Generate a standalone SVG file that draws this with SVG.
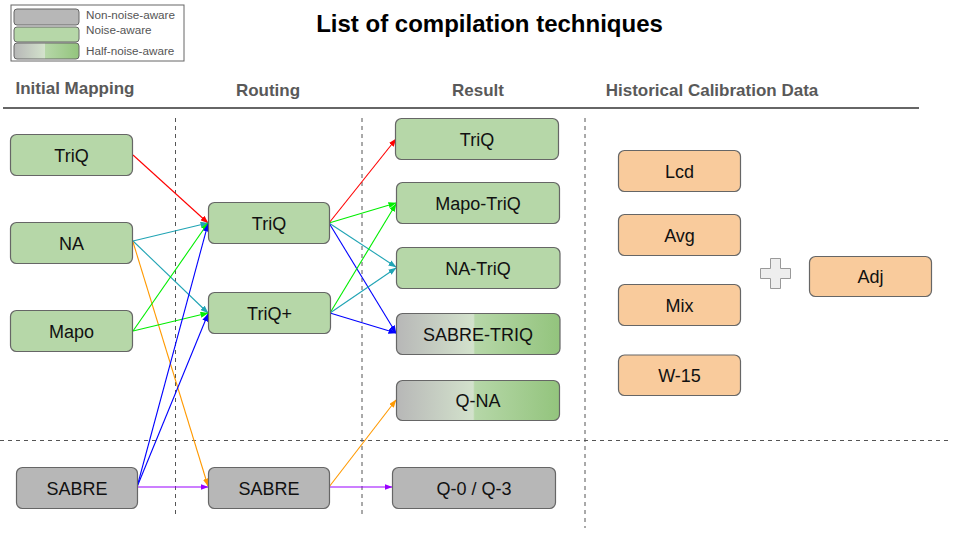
<svg xmlns="http://www.w3.org/2000/svg" width="960" height="540" viewBox="0 0 960 540">
<defs>
<style>
text{font-family:"Liberation Sans",Arial,sans-serif}
.n rect{stroke:#666;stroke-width:1.2}
.g rect{fill:#b6d7a8}
.gr rect{fill:#b7b7b7}
.h rect{fill:url(#half)}
.o rect{fill:#f9cb9c}
.n text{font-size:18px;fill:#111;text-anchor:middle}
.hd{font-size:17px;font-weight:bold;fill:#595959;text-anchor:middle}
.lg{font-size:11.7px;fill:#555}
.dash{stroke:#555;stroke-width:1;stroke-dasharray:4,4;fill:none}
#connectors line{stroke-width:1.1}
</style>
<linearGradient id="half" x1="0" y1="0" x2="1" y2="0">
<stop offset="0" stop-color="#b7b7b7"/>
<stop offset="0.47" stop-color="#d3e2cc"/>
<stop offset="0.48" stop-color="#b6d7a8"/>
<stop offset="1" stop-color="#93c47d"/>
</linearGradient>
<marker id="mr" markerWidth="8" markerHeight="6" refX="7.5" refY="3" orient="auto" markerUnits="userSpaceOnUse"><path d="M0,0 L8,3 L0,6 z" fill="#ff0000"/></marker>
<marker id="mt" markerWidth="8" markerHeight="6" refX="7.5" refY="3" orient="auto" markerUnits="userSpaceOnUse"><path d="M0,0 L8,3 L0,6 z" fill="#20a4b4"/></marker>
<marker id="ml" markerWidth="8" markerHeight="6" refX="7.5" refY="3" orient="auto" markerUnits="userSpaceOnUse"><path d="M0,0 L8,3 L0,6 z" fill="#00ee00"/></marker>
<marker id="mb" markerWidth="8" markerHeight="6" refX="7.5" refY="3" orient="auto" markerUnits="userSpaceOnUse"><path d="M0,0 L8,3 L0,6 z" fill="#0000ff"/></marker>
<marker id="mo" markerWidth="8" markerHeight="6" refX="7.5" refY="3" orient="auto" markerUnits="userSpaceOnUse"><path d="M0,0 L8,3 L0,6 z" fill="#ff9900"/></marker>
<marker id="mp" markerWidth="8" markerHeight="6" refX="7.5" refY="3" orient="auto" markerUnits="userSpaceOnUse"><path d="M0,0 L8,3 L0,6 z" fill="#9900ff"/></marker>
</defs>
<rect width="960" height="540" fill="#ffffff"/>

<g id="legend">
<rect x="11" y="5" width="173" height="56" fill="#fff" stroke="#666" stroke-width="1"/>
<rect x="14" y="9" width="65" height="16" rx="3" fill="#b7b7b7" stroke="#666"/>
<rect x="14" y="27" width="65" height="15" rx="3" fill="#b6d7a8" stroke="#666"/>
<rect x="14" y="43" width="65" height="16" rx="3" fill="url(#half)" stroke="#666"/>
<text class="lg" x="86" y="19">Non-noise-aware</text>
<text class="lg" x="86" y="34">Noise-aware</text>
<text class="lg" x="86" y="55">Half-noise-aware</text>
</g>

<text x="489.5" y="32" font-size="24" font-weight="bold" text-anchor="middle" fill="#000">List of compilation techniques</text>

<text class="hd" x="75" y="94" font-size="16">Initial Mapping</text>
<text class="hd" x="268" y="96">Routing</text>
<text class="hd" x="478" y="96">Result</text>
<text class="hd" x="712" y="96">Historical Calibration Data</text>
<line x1="3" y1="108" x2="919" y2="108" stroke="#666" stroke-width="2"/>

<line class="dash" x1="175.5" y1="118" x2="175.5" y2="515"/>
<line class="dash" x1="362" y1="118" x2="362" y2="515"/>
<line class="dash" x1="585" y1="118" x2="585" y2="528"/>
<line class="dash" x1="0" y1="440.5" x2="950" y2="440.5"/>

<g id="connectors">
<line x1="133" y1="155" x2="208" y2="223" stroke="#ff0000" marker-end="url(#mr)"/>
<line x1="133" y1="241" x2="208" y2="223" stroke="#20a4b4" marker-end="url(#mt)"/>
<line x1="133" y1="241" x2="208" y2="313" stroke="#20a4b4" marker-end="url(#mt)"/>
<line x1="133" y1="242" x2="208" y2="486" stroke="#ff9900" marker-end="url(#mo)"/>
<line x1="133" y1="331" x2="208" y2="223" stroke="#00ee00" marker-end="url(#ml)"/>
<line x1="133" y1="331" x2="208" y2="313" stroke="#00ee00" marker-end="url(#ml)"/>
<line x1="137" y1="487" x2="208" y2="224" stroke="#0000ff" marker-end="url(#mb)"/>
<line x1="137" y1="487" x2="208" y2="314" stroke="#0000ff" marker-end="url(#mb)"/>
<line x1="137" y1="487" x2="208" y2="487" stroke="#9900ff" stroke-width="1.5" marker-end="url(#mp)"/>
<line x1="329" y1="223" x2="396" y2="139" stroke="#ff0000" marker-end="url(#mr)"/>
<line x1="329" y1="223" x2="396" y2="203" stroke="#00ee00" marker-end="url(#ml)"/>
<line x1="329" y1="223" x2="396" y2="267" stroke="#20a4b4" marker-end="url(#mt)"/>
<line x1="329" y1="223" x2="396" y2="333" stroke="#0000ff" marker-end="url(#mb)"/>
<line x1="330" y1="313" x2="396" y2="204" stroke="#00ee00" marker-end="url(#ml)"/>
<line x1="330" y1="313" x2="396" y2="268" stroke="#20a4b4" marker-end="url(#mt)"/>
<line x1="330" y1="313" x2="396" y2="333" stroke="#0000ff" marker-end="url(#mb)"/>
<line x1="329" y1="487" x2="396" y2="400" stroke="#ff9900" marker-end="url(#mo)"/>
<line x1="329" y1="487" x2="392" y2="487" stroke="#9900ff" stroke-width="1.5" marker-end="url(#mp)"/>
</g>

<g id="im-triq" class="n g"><rect x="10.5" y="134.5" width="122" height="41" rx="6"/><text x="71.5" y="161.5">TriQ</text></g>
<g id="im-na" class="n g"><rect x="10.5" y="222.5" width="122" height="41" rx="6"/><text x="71.5" y="249.5">NA</text></g>
<g id="im-mapo" class="n g"><rect x="10.5" y="310.5" width="122" height="41" rx="6"/><text x="71.5" y="337.5">Mapo</text></g>
<g id="im-sabre" class="n gr"><rect x="16.5" y="467.5" width="121" height="41" rx="6"/><text x="77" y="494.5">SABRE</text></g>

<g id="rt-triq" class="n g"><rect x="208.5" y="202.5" width="121" height="41" rx="6"/><text x="269" y="229.5">TriQ</text></g>
<g id="rt-triqp" class="n g"><rect x="208.5" y="292.5" width="122" height="41" rx="6"/><text x="269.5" y="319.5">TriQ+</text></g>
<g id="rt-sabre" class="n gr"><rect x="208.5" y="467.5" width="121" height="41" rx="6"/><text x="269" y="494.5">SABRE</text></g>

<g id="rs-triq" class="n g"><rect x="395.5" y="118.5" width="163" height="41" rx="6"/><text x="477" y="145.5">TriQ</text></g>
<g id="rs-mapotriq" class="n g"><rect x="396.5" y="182.5" width="163" height="41" rx="6"/><text x="478" y="209.5">Mapo-TriQ</text></g>
<g id="rs-natriq" class="n g"><rect x="396.5" y="247.5" width="163.5" height="41" rx="6"/><text x="478" y="274.5">NA-TriQ</text></g>
<g id="rs-sabretriq" class="n h"><rect x="396.5" y="313.5" width="163.5" height="41" rx="6"/><text x="478" y="340.5">SABRE-TRIQ</text></g>
<g id="rs-qna" class="n h"><rect x="396.5" y="380.5" width="163" height="40" rx="6"/><text x="478" y="407">Q-NA</text></g>
<g id="rs-q03" class="n gr"><rect x="392.5" y="467.5" width="163" height="41" rx="6"/><text x="474" y="494.5">Q-0 / Q-3</text></g>

<g id="cal-lcd" class="n o"><rect x="618.5" y="150.5" width="122" height="41" rx="6"/><text x="679.5" y="177.5">Lcd</text></g>
<g id="cal-avg" class="n o"><rect x="618.5" y="214.5" width="122" height="41" rx="6"/><text x="679.5" y="241.5">Avg</text></g>
<g id="cal-mix" class="n o"><rect x="618.5" y="284.5" width="122" height="41" rx="6"/><text x="679.5" y="311.5">Mix</text></g>
<g id="cal-w15" class="n o"><rect x="618.5" y="355" width="122" height="40.5" rx="6"/><text x="679.5" y="382">W-15</text></g>
<g id="plus"><path d="M770.5,258.5 h10 v10 h10 v10 h-10 v10 h-10 v-10 h-10 v-10 h10 z" fill="#eeeeee" stroke="#999" stroke-width="1"/></g>
<g id="cal-adj" class="n o"><rect x="809.5" y="256.5" width="122" height="40" rx="6"/><text x="870.5" y="283">Adj</text></g>
</svg>
